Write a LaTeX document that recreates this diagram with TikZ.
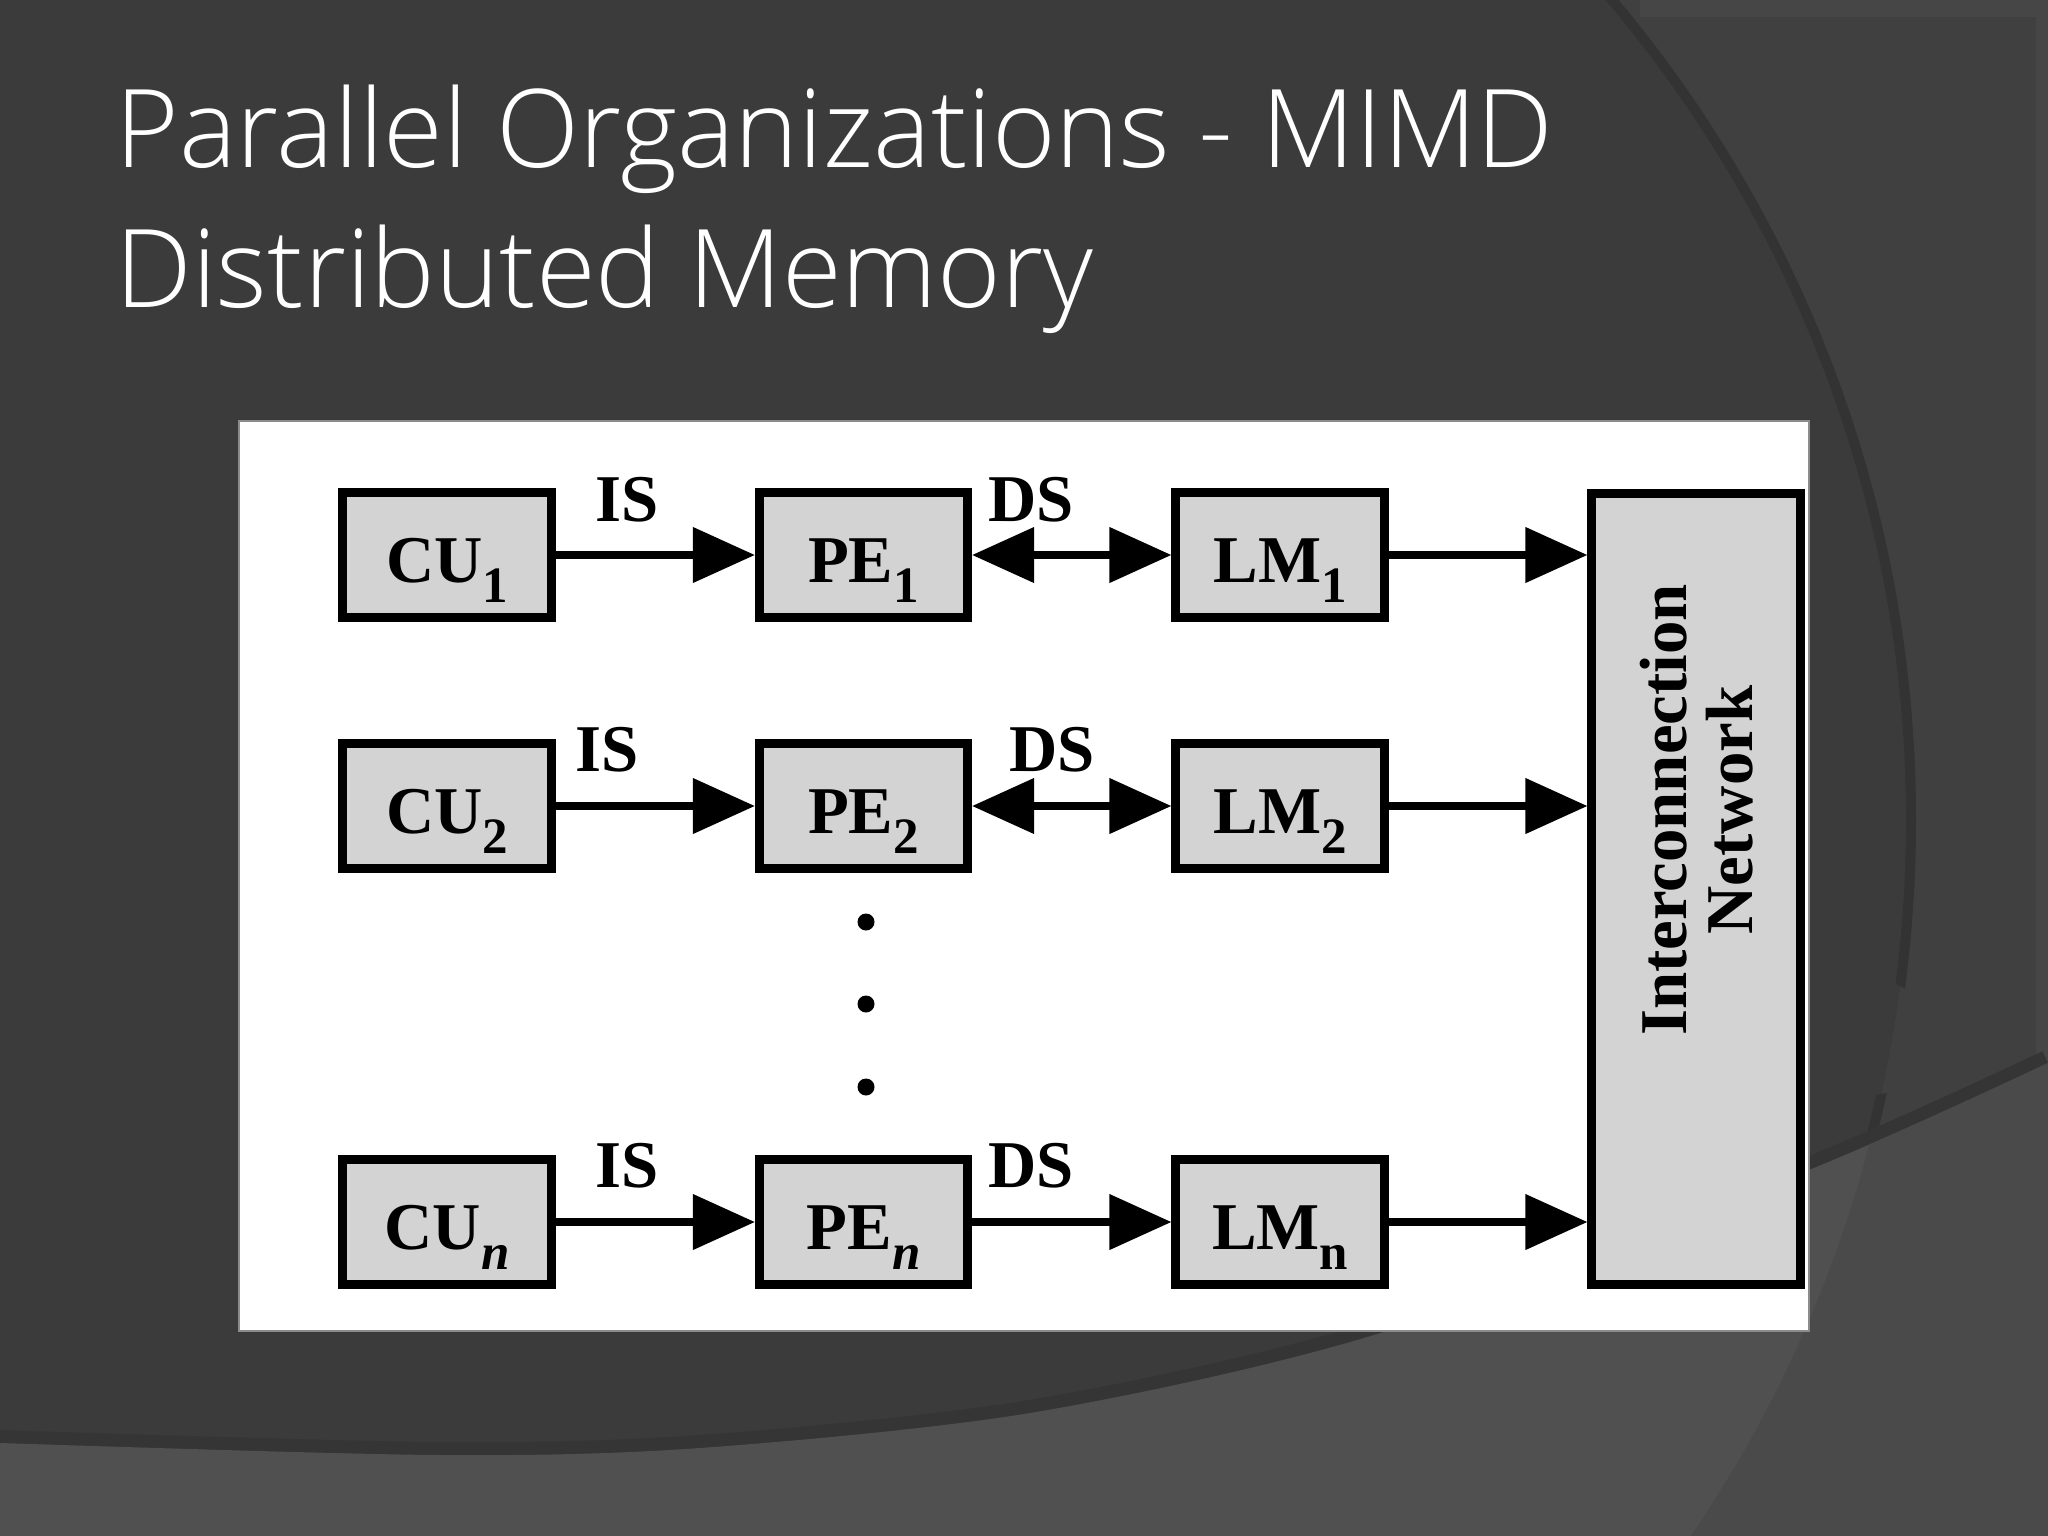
\documentclass[tikz,border=0pt]{standalone}
\usepackage{fontspec}
\usetikzlibrary{arrows.meta}
\IfFontExistsTF{Open Sans Light}{\newfontfamily\titlefont{Open Sans Light}}{\newfontfamily\titlefont{Open Sans}}
\newfontfamily\diagfont{Liberation Serif}
\newcommand\lowsub[1]{\raisebox{-0.30em}{\fontsize{14.5pt}{14.5pt}\selectfont #1}}
\definecolor{bgmain}{HTML}{3B3B3B}
\definecolor{bgright}{HTML}{404040}
\definecolor{bgarc}{HTML}{333333}
\definecolor{bgbottom}{HTML}{505050}
\definecolor{bgbottomr}{HTML}{4A4A4A}
\definecolor{bgshadow}{HTML}{353535}
\definecolor{bgstrip}{HTML}{464646}
\definecolor{boxgray}{HTML}{D3D3D3}
\tikzset{
  blk/.style={draw=black, line width=0.09cm, fill=boxgray, minimum width=2.08cm,
    minimum height=1.24cm, inner sep=0pt, text height=0.54cm, text depth=0pt,
    font={\diagfont\bfseries\upshape\fontsize{19pt}{19pt}\selectfont}},
  lbl/.style={anchor=base, inner sep=0pt, font={\diagfont\bfseries\upshape\fontsize{19pt}{19pt}\selectfont}},
  conn/.style={line width=0.075cm, -{Triangle[length=0.62cm,width=0.54cm]}},
  dconn/.style={line width=0.075cm, {Triangle[length=0.62cm,width=0.54cm]}-{Triangle[length=0.62cm,width=0.54cm]}},
  dot/.style={circle, fill=black, minimum size=0.17cm, inner sep=0pt},
  ttl/.style={anchor=base west, inner sep=0pt, text=white, font={\titlefont\fontsize{30.9pt}{30pt}\selectfont}}
}
\begin{document}
\begin{tikzpicture}[x=0.01cm,y=-0.01cm]
\useasboundingbox (0,0) rectangle (2048,1536);
% background
\fill[bgmain] (0,0) rectangle (2048,1536);
\fill[bgright, even odd rule] (0,0) rectangle (2048,1536) (637,820) circle (1274);
\fill[bgstrip] (1640,0) rectangle (2048,17);
\fill[bgstrip] (2036,0) rectangle (2048,1536);
\begin{scope}
  \clip (0,0) -- (2048,0) -- (2048,1063) plot[smooth] coordinates {(2048,1063) (1809,1170) (1387,1331) (1036,1412) (700,1448) (436,1455) (0,1443)} -- cycle;
  \draw[bgarc, line width=0.1cm] (637,820) circle (1274);
\end{scope}
\draw[bgshadow, line width=0.26cm] plot[smooth] coordinates {(0,1443) (436,1455) (700,1448) (1036,1412) (1387,1331) (1809,1170) (2048,1063)};
\fill[bgbottom] plot[smooth] coordinates {(0,1443) (436,1455) (700,1448) (1036,1412) (1387,1331) (1809,1170) (2048,1063)} -- (2048,1536) -- (0,1536) -- cycle;
\begin{scope}
  \clip plot[smooth] coordinates {(0,1443) (436,1455) (700,1448) (1036,1412) (1387,1331) (1809,1170) (2048,1063)} -- (2048,1536) -- (0,1536) -- cycle;
  \fill[bgbottomr, even odd rule] (0,0) rectangle (2048,1536) (637,820) circle (1274);
  \fill[bgstrip!60!bgbottom] (2036,0) rectangle (2048,1536);
\end{scope}
% title
\node[ttl] (t1) at (115,167) {Parallel Organizations - MIMD};
\node[ttl] (t2) at (115,307) {Distributed Memory};
% white panel
\fill[white, draw=black!45, line width=0.3pt] (239,421) rectangle (1809,1331);
% boxes
\node[blk] (cu1) at (447,555) {CU\lowsub{1}};
\node[blk] (pe1) at (863.5,555) {PE\lowsub{1}};
\node[blk] (lm1) at (1280,555) {LM\lowsub{1}};
\node[blk] (cu2) at (447,806) {CU\lowsub{2}};
\node[blk] (pe2) at (863.5,806) {PE\lowsub{2}};
\node[blk] (lm2) at (1280,806) {LM\lowsub{2}};
\node[blk] (cun) at (447,1222) {CU\lowsub{\itshape n}};
\node[blk] (pen) at (863.5,1222) {PE\lowsub{\itshape n}};
\node[blk] (lmn) at (1280,1222) {LM\lowsub{n}};
\node[blk, minimum height=7.91cm] (net) at (1696,889) {};
\node[rotate=90, align=center, inner sep=0pt,
  font={\diagfont\bfseries\upshape\fontsize{19pt}{18.8pt}\selectfont}] (nettext) at (1697,810) {Interconnection\\Network};
% dots
\node[dot] (d1) at (866,922) {};
\node[dot] (d2) at (866,1004) {};
\node[dot] (d3) at (866,1087) {};
% labels
\node[lbl] (is1) at (627,521) {IS};
\node[lbl] (ds1) at (1031,521) {DS};
\node[lbl] (is2) at (607,771) {IS};
\node[lbl] (ds2) at (1052,771) {DS};
\node[lbl] (isn) at (627,1187) {IS};
\node[lbl] (dsn) at (1031,1187) {DS};
% connectors
\draw[conn] (cu1.east) -- (pe1.west);
\draw[dconn] (pe1.east) -- (lm1.west);
\draw[conn] (lm1.east) -- (lm1.east -| net.west);
\draw[conn] (cu2.east) -- (pe2.west);
\draw[dconn] (pe2.east) -- (lm2.west);
\draw[conn] (lm2.east) -- (lm2.east -| net.west);
\draw[conn] (cun.east) -- (pen.west);
\draw[conn] (pen.east) -- (lmn.west);
\draw[conn] (lmn.east) -- (lmn.east -| net.west);
\end{tikzpicture}
\end{document}
